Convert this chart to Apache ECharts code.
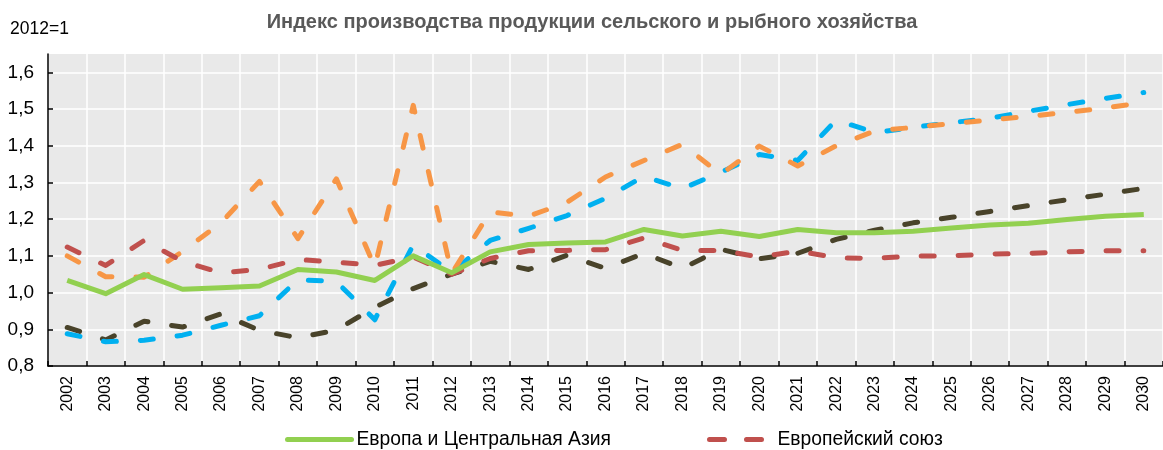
<!DOCTYPE html>
<html><head><meta charset="utf-8">
<script src="https://cdn.jsdelivr.net/npm/echarts@6/dist/echarts.min.js"></script>
<style>html,body{margin:0;padding:0;background:#fff}#c{width:1163px;height:450px}</style>
</head><body><div id="c"></div>
<script>
const years = ['2002','2003','2004','2005','2006','2007','2008','2009','2010','2011','2012','2013','2014','2015','2016','2017','2018','2019','2020','2021','2022','2023','2024','2025','2026','2027','2028','2029','2030'];
const yTicks = [0.8,0.9,1.0,1.1,1.2,1.3,1.4,1.5,1.6];
const nameGreen = 'Европа и Центральная Азия';
const nameRed = 'Европейский союз';
const green = [1.033,0.997,1.049,1.009,1.013,1.018,1.063,1.056,1.033,1.100,1.054,1.111,1.131,1.135,1.138,1.172,1.154,1.167,1.153,1.172,1.163,1.163,1.167,1.176,1.184,1.189,1.199,1.208,1.213];
const red = [1.124,1.074,1.142,1.085,1.054,1.063,1.090,1.083,1.074,1.097,1.050,1.093,1.114,1.115,1.117,1.149,1.115,1.115,1.097,1.113,1.095,1.093,1.100,1.100,1.105,1.107,1.111,1.114,1.114];
const orange = [1.100,1.043,1.042,1.112,1.190,1.303,1.147,1.310,1.070,1.510,1.052,1.220,1.208,1.246,1.315,1.360,1.404,1.322,1.399,1.345,1.400,1.440,1.450,1.460,1.470,1.480,1.491,1.503,1.518];
const blue = [0.888,0.866,0.870,0.884,0.911,0.937,1.035,1.030,0.926,1.130,1.055,1.142,1.175,1.210,1.257,1.317,1.283,1.328,1.376,1.360,1.470,1.436,1.450,1.463,1.475,1.494,1.512,1.529,1.545];
const dark = [0.905,0.871,0.922,0.906,0.942,0.897,0.877,0.898,0.960,1.011,1.050,1.085,1.063,1.102,1.066,1.107,1.066,1.118,1.092,1.107,1.145,1.170,1.190,1.205,1.221,1.237,1.253,1.268,1.284];

const FONT = "'Liberation Sans Narrow','Arial Narrow','Liberation Sans',sans-serif";
const DASH = [13,24];
const chart = echarts.init(document.getElementById('c'), null, {renderer:'canvas'});
function dashed(name, data, color, z){
  return {name, type:'line', data, symbol:'none', z, silent:true,
    itemStyle:{color},
    lineStyle:{color, width:5, type:DASH, cap:'round', join:'round'}};
}
chart.setOption({
  animation:false,
  backgroundColor:'#fff',
  graphic:[
    {type:'text', left:10, top:20, style:{text:'2012=1', font:"17.5px "+FONT, fill:'#000'}},
    {type:'text', x:592, y:12, style:{text:'Индекс производства продукции сельского и рыбного хозяйства', font:"bold 20px "+FONT, fill:'#595959', textAlign:'center'}}
  ],
  grid:{left:48, top:54, bottom:84, right:-10, show:true, backgroundColor:'#E9E9E9', borderWidth:0, containLabel:false},
  legend:[
    {data:[nameGreen], left:280, top:425, itemWidth:64, itemHeight:10, itemGap:5,
      itemStyle:{opacity:0},
      lineStyle:{width:5, color:'#92D050', type:'solid', cap:'round'},
      textStyle:{fontFamily:FONT, fontSize:19.3, color:'#000'}},
    {data:[nameRed], left:702, top:425, itemWidth:63, itemHeight:10,
      itemStyle:{opacity:0},
      lineStyle:{width:5, color:'#C0504D', type:[15,22], cap:'round'},
      textStyle:{fontFamily:FONT, fontSize:19.3, color:'#000'}}
  ],
  xAxis:{type:'category', data:years, boundaryGap:true,
    axisLine:{lineStyle:{color:'#000', width:1.5}},
    axisTick:{show:true, inside:true, length:5, lineStyle:{color:'#000', width:1.5}},
    splitLine:{show:true, lineStyle:{color:'#fff', width:1.5}},
    axisLabel:{rotate:90, interval:0, margin:10, fontFamily:FONT, fontSize:16, color:'#000'}},
  yAxis:{type:'value', min:0.8, max:1.65, interval:0.1,
    axisLine:{show:true, lineStyle:{color:'#000', width:1.5}},
    axisTick:{show:true, inside:true, length:5, lineStyle:{color:'#000', width:1.5}, customValues:yTicks},
    splitLine:{show:true, lineStyle:{color:'#fff', width:1.5}},
    axisLabel:{customValues:yTicks, margin:14, fontFamily:FONT, fontSize:19, color:'#000',
      formatter:v=>v.toFixed(1).replace('.',',')}},
  series:[
    dashed('Серия 3', dark, '#49432A', 2),
    dashed('Серия 4', blue, '#00B0F0', 3),
    dashed('Серия 5', orange, '#F79646', 4),
    dashed(nameRed, red, '#C0504D', 5),
    {name:nameGreen, type:'line', data:green, symbol:'none', z:6, silent:true,
      itemStyle:{color:'#92D050'},
      lineStyle:{color:'#92D050', width:5, join:'round'}}
  ]
});
</script></body></html>
